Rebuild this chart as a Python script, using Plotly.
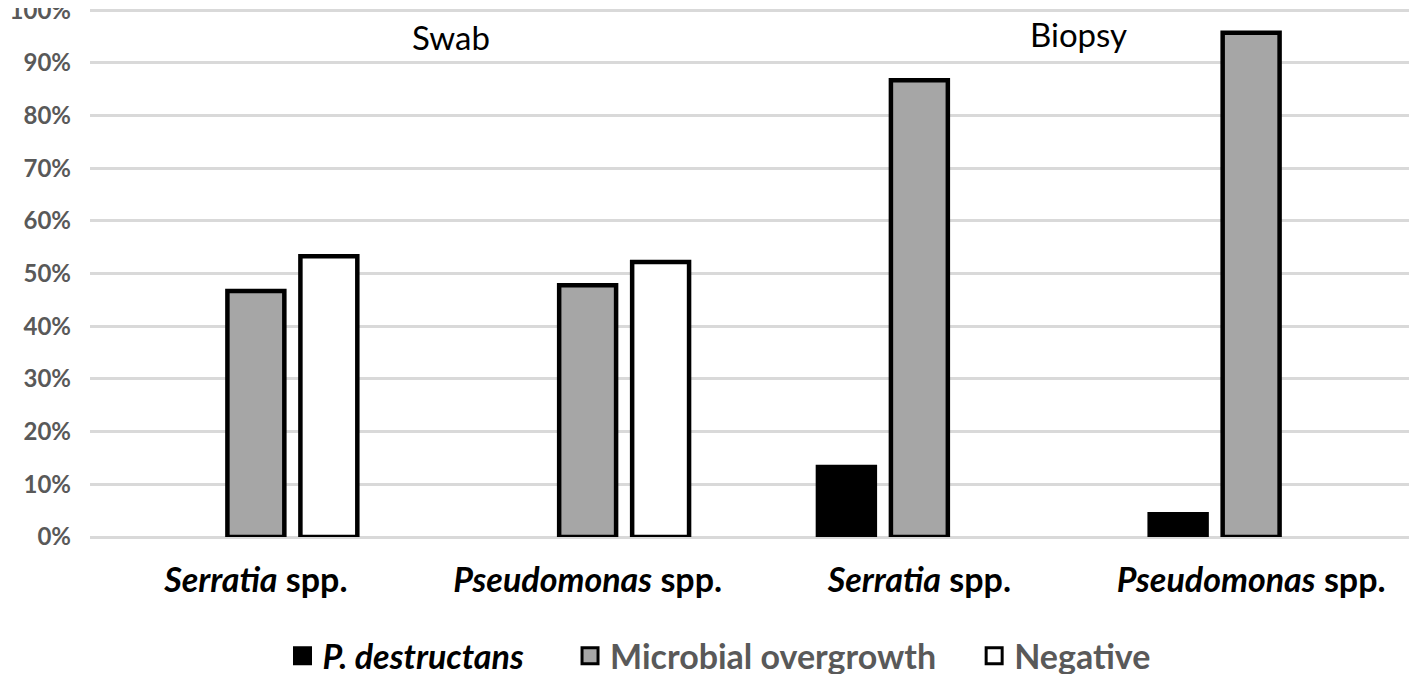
import plotly.graph_objects as go

# ---- data ----
categories = ["Swab Serratia", "Swab Pseudomonas", "Biopsy Serratia", "Biopsy Pseudomonas"]
tick_labels = ["<i>Serratia</i> spp.", "<i>Pseudomonas</i> spp.",
               "<i>Serratia</i> spp.", "<i>Pseudomonas</i> spp."]
p_destructans = [0.0, 0.0, 0.133, 0.043]
microbial_overgrowth = [0.467, 0.478, 0.867, 0.957]
negative = [0.533, 0.522, 0.0, 0.0]
y_ticks = [0, 0.1, 0.2, 0.3, 0.4, 0.5, 0.6, 0.7, 0.8, 0.9, 1.0]
group_labels = ["Swab", "Biopsy"]
series_names = ['<span style="color:black"><i>P. destructans</i></span>',
                "Microbial overgrowth", "Negative"]

FONT = "Lato"
GRAY_TXT = "#595959"
LW = 4.5


def line_widths(vals):
    return [LW if v > 0 else 0 for v in vals]


fig = go.Figure()
fills = ["black", "#a6a6a6", "white"]
pads = ["&nbsp;&nbsp;&nbsp;&nbsp;&nbsp;", "&nbsp;&nbsp;&nbsp;&nbsp;", ""]
series = [p_destructans, microbial_overgrowth, negative]

for vals, name, fill in zip(series, series_names, fills):
    fig.add_trace(go.Bar(
        x=categories, y=vals, name=name, showlegend=False,
        marker=dict(color=fill, line=dict(color="black", width=line_widths(vals))),
    ))

# legend entries (larger square keys, as in the original legend)
for name, fill, pad in zip(series_names, fills, pads):
    fig.add_trace(go.Scatter(
        x=[None], y=[None], mode="markers", name=name + pad, showlegend=True,
        marker=dict(symbol="square", size=16, color=fill,
                    line=dict(color="black", width=3)),
    ))

fig.update_layout(
    width=1409, height=666,
    margin=dict(l=82, r=0, t=0, b=137, autoexpand=False),
    paper_bgcolor="white", plot_bgcolor="white",
    barmode="group", bargap=0.34, bargroupgap=0.22,
    font=dict(family=FONT, color=GRAY_TXT),
    showlegend=True,
    legend=dict(orientation="h", x=0.474, xanchor="center", y=-0.225, yanchor="middle",
                font=dict(family=FONT, size=34, color=GRAY_TXT, weight="bold"),
                itemwidth=30, itemsizing="trace", traceorder="normal"),
    xaxis=dict(
        tickmode="array", tickvals=categories, ticktext=tick_labels,
        tickfont=dict(family=FONT, size=34, color="black", weight="bold"),
        showgrid=False, showline=False, zeroline=False, ticks="",
        ticklabelstandoff=20, automargin=False,
    ),
    yaxis=dict(
        range=[0, 1.004], tickvals=y_ticks, tickformat=".0%",
        tickfont=dict(family=FONT, size=24, color=GRAY_TXT, weight="bold"),
        ticklabeloverflow="allow",
        showgrid=True, gridcolor="#d9d9d9", gridwidth=3,
        zeroline=True, zerolinecolor="#d9d9d9", zerolinewidth=3,
        showline=False, ticks="", ticklabelstandoff=18, automargin=False,
    ),
)

group_x = [0.2724, 0.7449]
group_y = [0.945, 0.950]
for lbl, gx, gy in zip(group_labels, group_x, group_y):
    fig.add_annotation(text=lbl, x=gx, y=gy, xref="paper", yref="paper",
                       showarrow=False, xanchor="center", yanchor="middle",
                       font=dict(family=FONT, size=33, color="black"))

fig.write_html("out.html")
